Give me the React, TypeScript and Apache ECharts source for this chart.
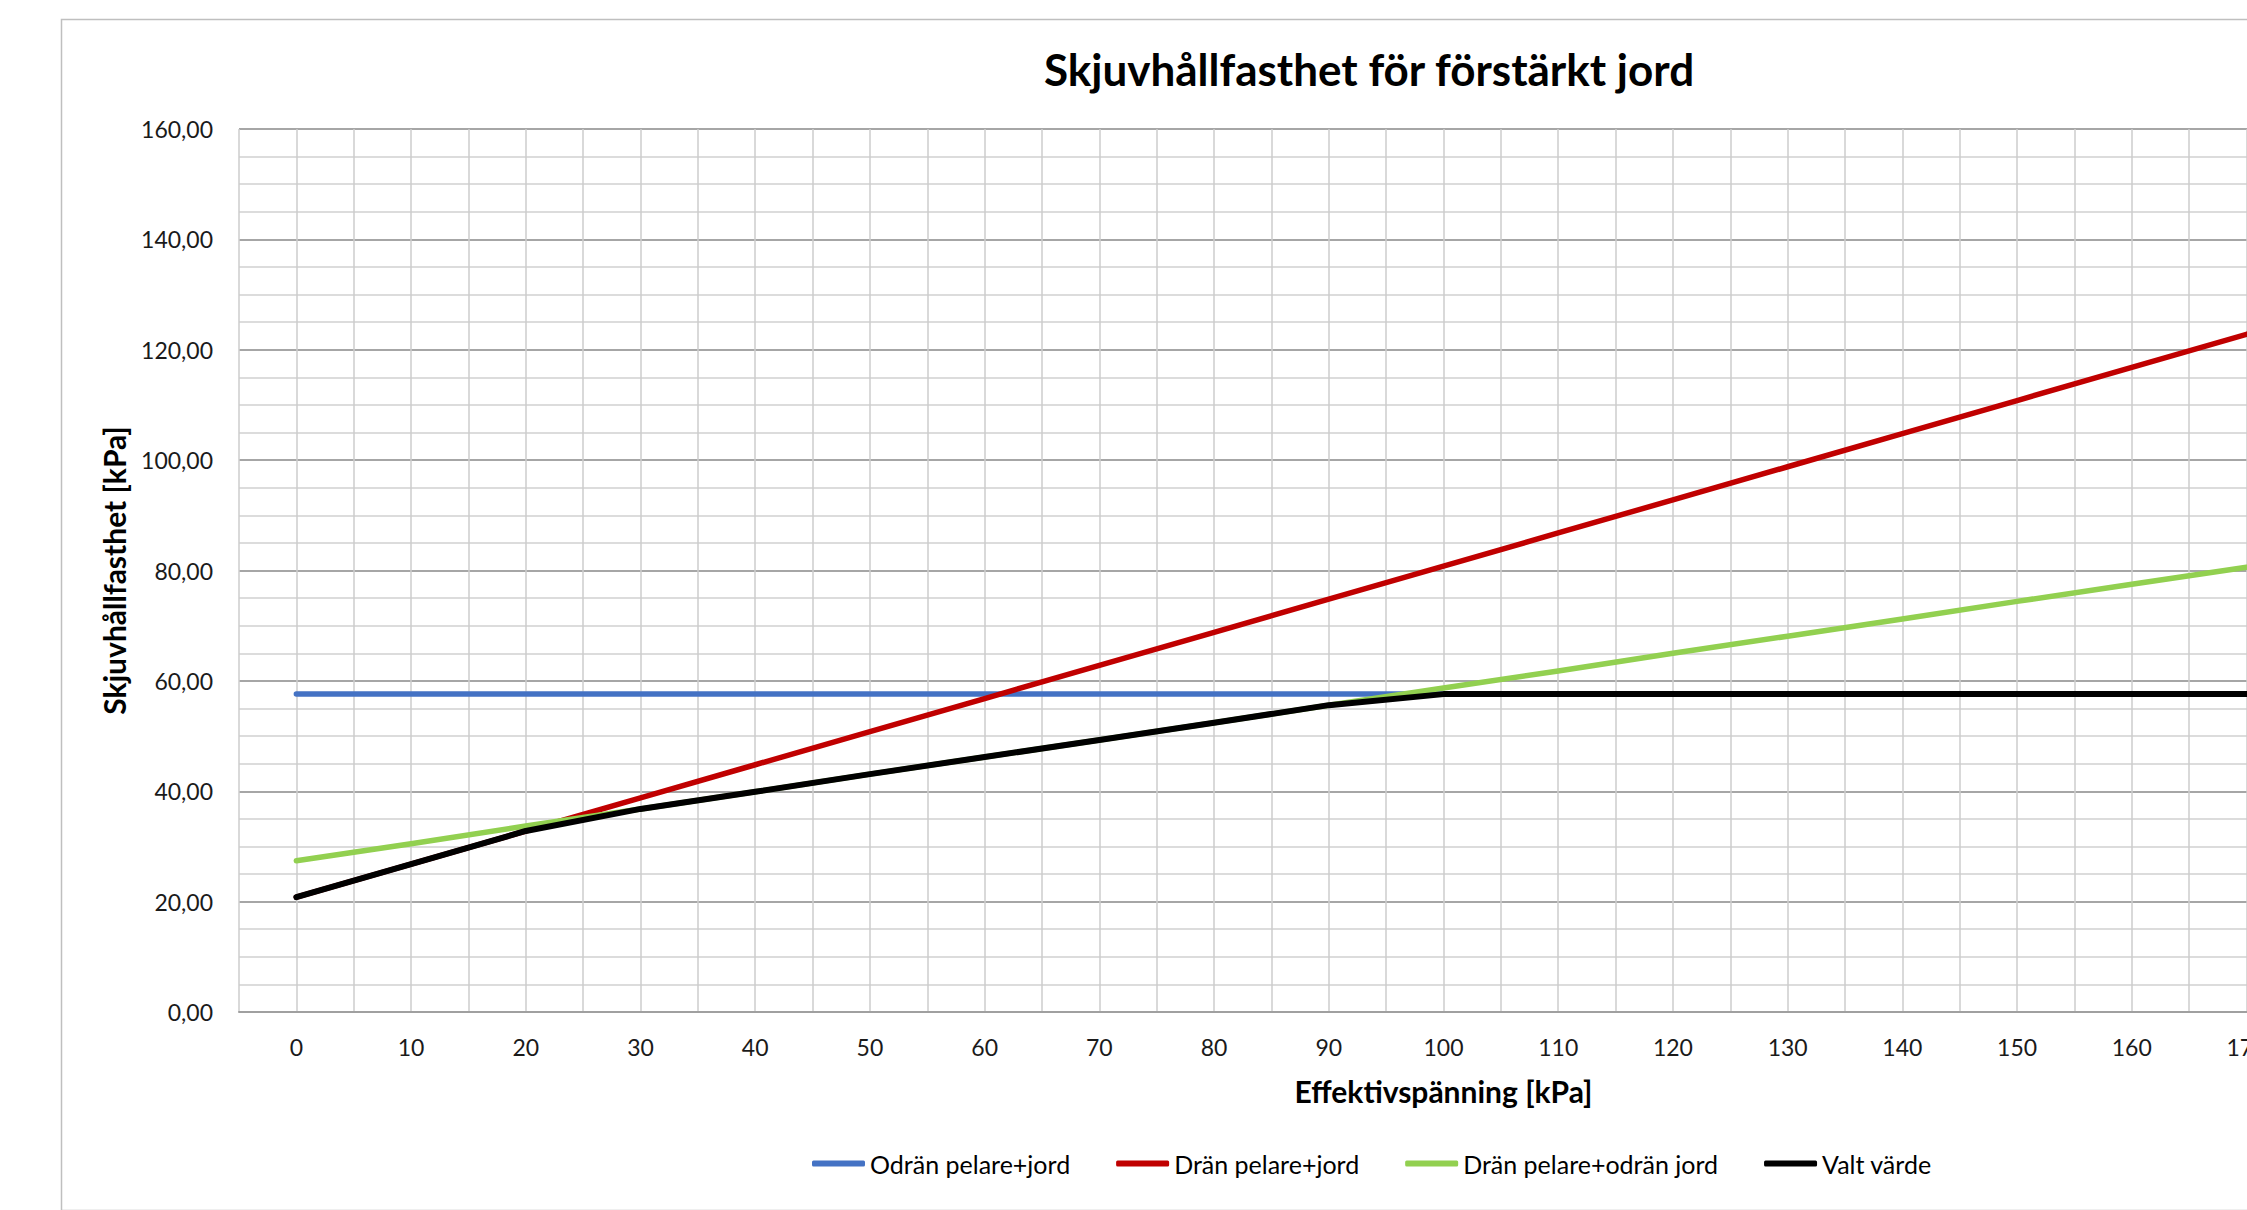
import React, { useEffect, useRef } from "react";
import * as echarts from "echarts";

const TITLE = "Skjuvhållfasthet för förstärkt jord";
const X_NAME = "Effektivspänning [kPa]";
const Y_NAME = "Skjuvhållfasthet [kPa]";

const xValues = [0, 10, 20, 30, 40, 50, 60, 70, 80, 90, 100, 110, 120, 130, 140, 150, 160, 170, 180, 190, 200];

const seriesNames = ["Odrän pelare+jord", "Drän pelare+jord", "Drän pelare+odrän jord", "Valt värde"];

const odranPelareJord = [57.6, 57.6, 57.6, 57.6, 57.6, 57.6, 57.6, 57.6, 57.6, 57.6, 57.6, 57.6, 57.6, 57.6, 57.6, 57.6, 57.6, 57.6, 57.6, 57.6, 57.6];
const dranPelareJord = [20.8, 26.8, 32.8, 38.8, 44.8, 50.8, 56.8, 62.8, 68.8, 74.8, 80.8, 86.8, 92.8, 98.8, 104.8, 110.8, 116.8, 122.8, 128.8, 134.8, 140.8];
const dranPelareOdranJord = [27.4, 30.5, 33.7, 36.8, 39.9, 43.1, 46.2, 49.3, 52.4, 55.6, 58.7, 61.8, 65.0, 68.1, 71.2, 74.4, 77.5, 80.6, 83.7, 86.9, 90.0];
const valtVarde = [20.8, 26.8, 32.8, 36.8, 39.9, 43.1, 46.2, 49.3, 52.4, 55.6, 57.6, 57.6, 57.6, 57.6, 57.6, 57.6, 57.6, 57.6, 57.6, 57.6, 57.6];

const seriesColors = ["#4472C4", "#C00000", "#92D050", "#000000"];
const seriesWidths = [5.5, 5.5, 5.5, 6];

const FONT = "Lato";

export default function App() {
  const ref = useRef<HTMLDivElement>(null);

  useEffect(() => {
    if (!ref.current) return;
    const chart = echarts.init(ref.current, null, { renderer: "svg" });
    const allData = [odranPelareJord, dranPelareJord, dranPelareOdranJord, valtVarde];
    const option = {
      animation: false,
      backgroundColor: "#ffffff",
      textStyle: { fontFamily: FONT },
      graphic: [
        {
          type: "rect",
          left: 59,
          top: 17,
          shape: { width: 2620, height: 1191 },
          style: { fill: "none", stroke: "#bfbfbf", lineWidth: 1.5 },
          silent: true,
          z: -10,
        },
        {
          type: "text",
          x: 1369,
          y: 69,
          style: {
            text: TITLE,
            fontFamily: FONT,
            fontWeight: "bold",
            fontSize: 44,
            fill: "#000000",
            textAlign: "center",
            textVerticalAlign: "middle",
          },
        },
      ],
      grid: { left: 239, top: 129, width: 2409, height: 883, containLabel: false },
      legend: {
        left: 807,
        top: 1146,
        icon: "roundRect",
        itemWidth: 53,
        itemHeight: 6,
        itemGap: 46,
        textStyle: { fontFamily: FONT, fontSize: 25, color: "#000000" },
        data: seriesNames,
      },
      xAxis: {
        type: "value",
        min: -5,
        max: 205,
        interval: 5,
        name: X_NAME,
        nameLocation: "middle",
        nameGap: 64,
        nameTextStyle: { fontFamily: FONT, fontWeight: "bold", fontSize: 30, color: "#000000" },
        axisLine: { show: true, lineStyle: { color: "#a0a0a0", width: 2 } },
        axisTick: { show: false },
        axisLabel: {
          fontFamily: FONT,
          fontSize: 23,
          color: "#1a1a1a",
          margin: 23,
          showMinLabel: true,
          formatter: (v: number) => (v >= 0 && v <= 200 && v % 10 === 0 ? String(v) : ""),
        },
        splitLine: { show: true, lineStyle: { color: "#cccccc", width: 1.5 } },
      },
      yAxis: {
        type: "value",
        min: 0,
        max: 160,
        interval: 20,
        name: Y_NAME,
        nameLocation: "middle",
        nameRotate: 90,
        nameGap: 110,
        nameTextStyle: { fontFamily: FONT, fontWeight: "bold", fontSize: 30, color: "#000000" },
        axisLine: { show: false },
        axisTick: { show: false },
        axisLabel: {
          fontFamily: FONT,
          fontSize: 23,
          color: "#1a1a1a",
          margin: 26,
          formatter: (v: number) => v.toFixed(2).replace(".", ","),
        },
        splitLine: { show: true, lineStyle: { color: "#a6a6a6", width: 2 } },
        minorTick: { show: false, splitNumber: 4 },
        minorSplitLine: { show: true, lineStyle: { color: "#d0d0d0", width: 1.5 } },
      },
      series: seriesNames.map((name, i) => ({
        name,
        type: "line",
        symbol: "none",
        showSymbol: false,
        data: xValues.map((x, j) => [x, allData[i][j]]),
        lineStyle: { color: seriesColors[i], width: seriesWidths[i], cap: "round", join: "round" },
        itemStyle: { color: seriesColors[i] },
        z: 2 + i,
      })),
    };
    chart.setOption(option as any);
    return () => chart.dispose();
  }, []);

  return (
    <div style={{ position: "fixed", left: 0, top: 0, width: 2247, height: 1210, overflow: "hidden", background: "#fff" }}>
      <div ref={ref} style={{ width: 2700, height: 1210 }} />
    </div>
  );
}
